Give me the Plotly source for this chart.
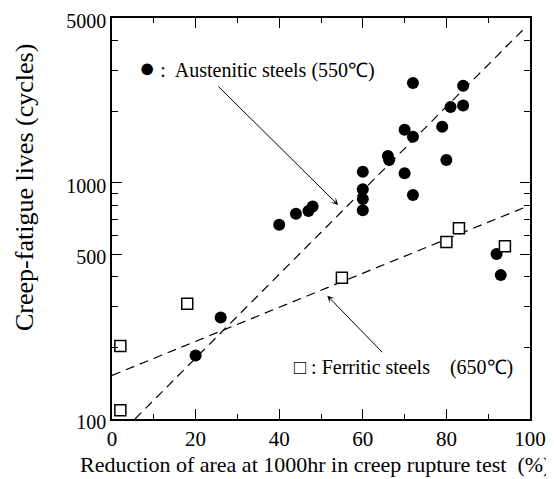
import numpy as np
import plotly.graph_objects as go

# Austenitic steels (550C): filled circles
aus_x = [72, 84, 81, 84, 70, 72, 79, 66, 66.3, 80, 60, 70, 60, 60, 72, 60, 48, 47, 44, 40, 26, 20, 92, 93]
aus_y = [2650, 2580, 2100, 2130, 1680, 1570, 1730, 1300, 1250, 1250, 1115, 1100, 940, 855, 890, 766, 795, 760, 740, 665, 269, 186, 500, 407]

# Ferritic steels (650C): open squares
fer_x = [2, 2, 18, 55, 80, 83, 94]
fer_y = [204, 109, 308, 397, 562, 643, 539]

# Fitted trend lines (dashed)
aus_fit_x = [5.5, 99]
aus_fit_y = [100, 4580]
fer_fit_x = [0, 99]
fer_fit_y = [153, 792]

x_tick_vals = [0, 20, 40, 60, 80, 100]
x_minor_vals = [10, 30, 50, 70, 90]
y_tick_vals = [100, 500, 1000, 5000]
y_tick_text = ["100", "500", "1000", "5000"]
y_minor_vals = [200, 300, 400, 600, 700, 800, 900, 2000, 3000, 4000]

FONT = "Liberation Serif, Times New Roman, serif"

# page body has an 8px margin; plot area in page coords: x 112..530, y 18..419
W, H = 546, 471
L, T = 104, 10
PW, PH = 418, 401


def px(xp):
    return (xp - 8 - L) / PW


def py(yp):
    return (T + PH - (yp - 8)) / PH


fig = go.Figure()
fig.add_trace(go.Scatter(x=aus_fit_x, y=aus_fit_y, mode="lines",
                         line=dict(color="black", width=1.2, dash="9px,6px"), showlegend=False))
fig.add_trace(go.Scatter(x=fer_fit_x, y=fer_fit_y, mode="lines",
                         line=dict(color="black", width=1.2, dash="9px,6px"), showlegend=False))
fig.add_trace(go.Scatter(x=aus_x, y=aus_y, mode="markers",
                         marker=dict(symbol="circle", size=12, color="black"), showlegend=False))
fig.add_trace(go.Scatter(x=fer_x, y=fer_y, mode="markers",
                         marker=dict(symbol="square", size=11, color="white",
                                     line=dict(color="black", width=1.5)), showlegend=False))

# labels with arrows
fig.add_annotation(x=54.1, y=np.log10(807), ax=25.1, ay=np.log10(2600), axref="x", ayref="y",
                   xref="x", yref="y", showarrow=True, arrowhead=3, arrowsize=1.2,
                   arrowwidth=1, arrowcolor="black", text="")
fig.add_annotation(x=51.5, y=np.log10(333), ax=65.0, ay=np.log10(189), axref="x", ayref="y",
                   xref="x", yref="y", showarrow=True, arrowhead=3, arrowsize=1.2,
                   arrowwidth=1, arrowcolor="black", text="")

fig.add_annotation(xref="paper", yref="paper", x=px(137), y=py(68),
                   xanchor="left", yanchor="middle", showarrow=False,
                   text="<span style='font-size:27px'>●</span> :  Austenitic steels (550℃)",
                   font=dict(family=FONT, size=20, color="black"))
fig.add_annotation(xref="paper", yref="paper", x=px(292), y=py(367),
                   xanchor="left", yanchor="middle", showarrow=False,
                   text="□ : Ferritic steels    (650℃)", font=dict(family=FONT, size=20, color="black"))

fig.add_annotation(xref="paper", yref="paper", x=px(24), y=py(188),
                   xanchor="center", yanchor="middle", showarrow=False, textangle=-90,
                   text="Creep-fatigue lives (cycles)", font=dict(family=FONT, size=26, color="black"))
fig.add_annotation(xref="paper", yref="paper", x=px(315), y=py(464),
                   xanchor="center", yanchor="middle", showarrow=False,
                   text="Reduction of area at 1000hr in creep rupture test  (%)",
                   font=dict(family=FONT, size=22, color="black"))

fig.update_layout(
    width=W, height=H,
    margin=dict(l=L, r=W - L - PW, t=T, b=H - T - PH),
    paper_bgcolor="white", plot_bgcolor="white",
    font=dict(family=FONT, size=20, color="black"),
    xaxis=dict(range=[0, 100], tickvals=x_tick_vals, ticks="inside", ticklen=10, tickwidth=1.2,
               tickcolor="black", showline=True, linecolor="black", linewidth=1.5, mirror="ticks",
               showgrid=False, zeroline=False, automargin=False, ticklabeloverflow="allow",
               minor=dict(tickvals=x_minor_vals, ticks="inside", ticklen=5, tickcolor="black", tickwidth=1.2),
               tickfont=dict(family=FONT, size=21)),
    yaxis=dict(type="log", range=[2, np.log10(5000)], tickvals=y_tick_vals, ticktext=y_tick_text,
               ticks="inside", ticklen=10, tickwidth=1.2, tickcolor="black",
               showline=True, linecolor="black", linewidth=1.5, mirror="ticks",
               showgrid=False, zeroline=False, automargin=False, ticklabeloverflow="allow",
               ticklabelshift=3,
               minor=dict(tickvals=y_minor_vals, ticks="inside", ticklen=6, tickcolor="black", tickwidth=1.2),
               tickfont=dict(family=FONT, size=20)),
)

fig.write_html("out.html")
